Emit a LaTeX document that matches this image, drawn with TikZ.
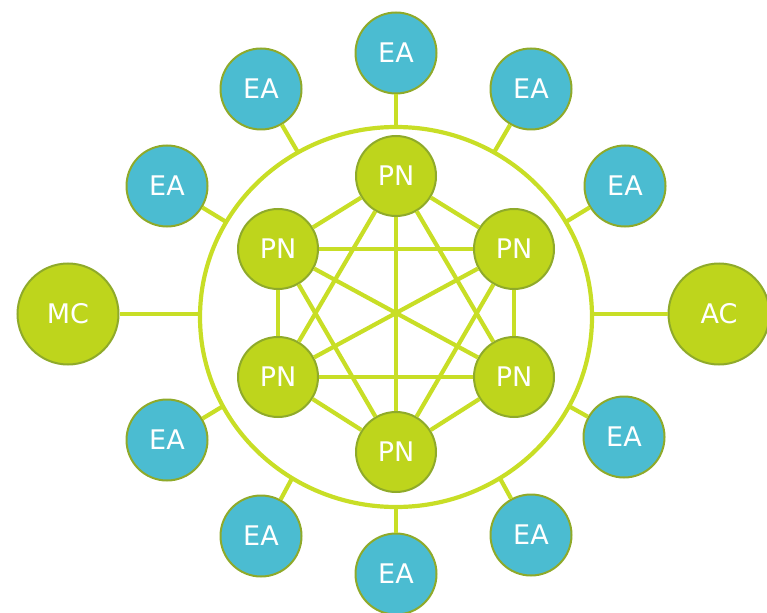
\documentclass[tikz,border=0pt]{standalone}
\usepackage{fontspec}
\newfontfamily\labelfont{DejaVu Sans}
\usepackage{tikz}
\usetikzlibrary{calc}
\definecolor{eablue}{HTML}{4BBCD1}
\definecolor{pngreen}{HTML}{BED51C}
\definecolor{rimgreen}{HTML}{8FAA2A}
\definecolor{linkgreen}{HTML}{C8DE26}

\begin{document}
\begin{tikzpicture}[x=1pt,y=-1pt,
  link/.style={draw=linkgreen, line width=4.2pt},
  unit/.style={circle, draw=rimgreen, line width=2pt, inner sep=0pt, text=white,
    font=\labelfont\fontsize{27}{32}\selectfont},
  pn/.style={unit, fill=pngreen, minimum size=80pt},
  ea/.style={unit, fill=eablue, minimum size=81pt},
  ctrl/.style={unit, fill=pngreen, minimum size=101pt}]
  \useasboundingbox (0,0) rectangle (767,612);
  % ring
  \coordinate (c) at (396,317);
  \draw[link] (c) ellipse [x radius=196pt, y radius=190pt];
  \coordinate (ringW) at ($(c)+(180:196pt and 190pt)$);
  \coordinate (ringE) at ($(c)+(0:196pt and 190pt)$);
  % processing nodes
  \node[pn] (pn1) at (396,176) {PN};
  \node[pn] (pn2) at (278,249) {PN};
  \node[pn] (pn3) at (514,249) {PN};
  \node[pn] (pn4) at (278,377) {PN};
  \node[pn] (pn5) at (514,377) {PN};
  \node[pn] (pn6) at (396,452) {PN};
  % full mesh between them
  \foreach \i in {1,...,5} {
    \pgfmathtruncatemacro\k{\i+1}
    \foreach \j in {\k,...,6}
      \draw[link] (pn\i) -- (pn\j);
  }
  % end agents round the ring
  \foreach \n/\x/\y/\a in {1/396/53/90, 2/531/89/60, 3/625/186/30, 4/624/437/-28,
      5/531/535/-58, 6/396/574/-90, 7/261/536/-122, 8/167/440/-152,
      9/167/186/150, 10/261/89/120} {
    \node[ea] (ea\n) at (\x,\y) {EA};
    \draw[link] (ea\n) -- ($(c)+(\a:196pt and 190pt)$);
  }
  % controllers
  \node[ctrl] (mc) at (68,314) {MC};
  \node[ctrl] (ac) at (719,314) {AC};
  \draw[link] (mc) -- (mc -| ringW);
  \draw[link] (ac) -- (ac -| ringE);
\end{tikzpicture}
\end{document}
